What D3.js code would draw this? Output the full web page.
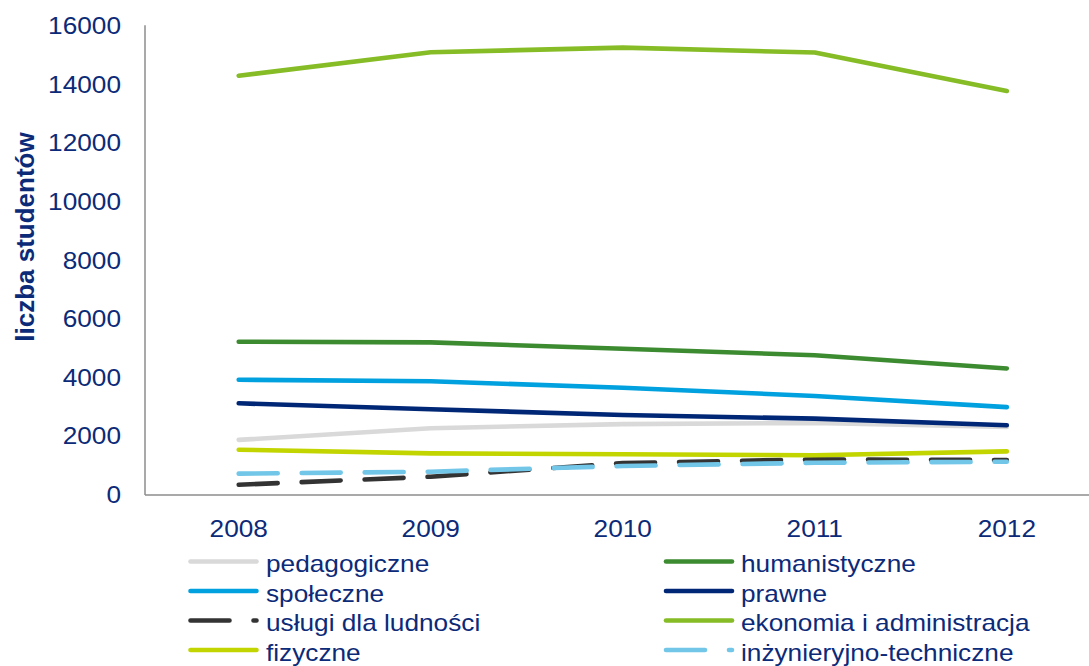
<!DOCTYPE html>
<html>
<head>
<meta charset="utf-8">
<script src="https://cdn.jsdelivr.net/npm/d3@7"></script>
<style>
  html, body { margin: 0; padding: 0; background: #fff; }
  svg { display: block; }
  text { font-family: "Liberation Sans", Arial, sans-serif; fill: #0B2A78; }
</style>
</head>
<body>
<svg id="chart" width="1089" height="666"></svg>
<script>
// ---- data ----
const years = ["2008", "2009", "2010", "2011", "2012"];
const yTicks = [0, 2000, 4000, 6000, 8000, 10000, 12000, 14000, 16000];

const pedagogiczne = [1880, 2280, 2420, 2460, 2320];
const humanistyczne = [5230, 5210, 4990, 4770, 4320];
const spoleczne = [3935, 3880, 3660, 3380, 3000];
const prawne = [3130, 2925, 2730, 2605, 2380];
const uslugi = [350, 625, 1090, 1215, 1195];
const ekonomia = [14310, 15110, 15270, 15100, 13790];
const fizyczne = [1545, 1420, 1390, 1355, 1490];
const inzynieryjno = [730, 795, 990, 1100, 1135];

const seriesNames = ["pedagogiczne", "humanistyczne", "społeczne", "prawne",
  "usługi dla ludności", "ekonomia i administracja", "fizyczne", "inżynieryjno-techniczne"];
const seriesValues = [pedagogiczne, humanistyczne, spoleczne, prawne, uslugi, ekonomia, fizyczne, inzynieryjno];
const seriesColors = ["#D9D9D9", "#3D8B31", "#00A1DE", "#002776", "#333333", "#86BC25", "#C2D500", "#72C6E8"];
const seriesDashed = [false, false, false, false, true, false, false, true];

// ---- layout ----
const svg = d3.select("#chart");
const sx = 1.14; // horizontal text stretch of the original
const fs = 23;
const lineW = 4.6;
const dash = "39,24";

const x = d3.scalePoint().domain(years).range([238.7, 1006.8]);
const y = d3.scaleLinear().domain([0, 16000]).range([495, 26.2]);

function stretchedText(g, tx, ty, str, anchor, opts = {}) {
  return g.append("text")
    .attr("transform", `translate(${tx},${ty}) scale(${sx},1)`)
    .attr("text-anchor", anchor)
    .style("font-size", (opts.size || fs) + "px")
    .style("font-weight", opts.weight || "normal")
    .text(str);
}

// axes lines
svg.append("line").attr("x1", 145).attr("x2", 145).attr("y1", y(16000) - 1).attr("y2", y(0))
  .attr("stroke", "#8C8C8C").attr("stroke-width", 1.5);
svg.append("line").attr("x1", 145).attr("x2", 1089).attr("y1", y(0)).attr("y2", y(0))
  .attr("stroke", "#8C8C8C").attr("stroke-width", 1.5);

// y tick labels
const yl = svg.append("g");
yTicks.forEach(t => stretchedText(yl, 121, y(t) + 8, String(t), "end"));

// x tick labels
const xl = svg.append("g");
years.forEach(yr => stretchedText(xl, x(yr), 537, yr, "middle"));

// y axis title
svg.append("text")
  .attr("transform", `translate(34,237) rotate(-90)`)
  .attr("text-anchor", "middle")
  .style("font-size", "26px")
  .style("font-weight", "bold")
  .text("liczba studentów");

// lines
const lineGen = d3.line().x((d, i) => x(years[i])).y(d => y(d));
const lg = svg.append("g");
seriesValues.forEach((vals, i) => {
  lg.append("path")
    .datum(vals)
    .attr("d", lineGen)
    .attr("fill", "none")
    .attr("stroke", seriesColors[i])
    .attr("stroke-width", lineW)
    .attr("stroke-linecap", "round")
    .attr("stroke-linejoin", "round")
    .attr("stroke-dasharray", seriesDashed[i] ? dash : null);
});

// legend
const leg = svg.append("g");
const colX = [190.5, 666];
const textX = [266, 741];
const rowBase = [572, 601.5, 631, 660.5];
seriesNames.forEach((name, i) => {
  const c = i % 2, r = Math.floor(i / 2);
  const ly = rowBase[r] - 10.5;
  leg.append("line")
    .attr("x1", colX[c]).attr("x2", colX[c] + 66)
    .attr("y1", ly).attr("y2", ly)
    .attr("stroke", seriesColors[i])
    .attr("stroke-width", lineW)
    .attr("stroke-linecap", "round")
    .attr("stroke-dasharray", seriesDashed[i] ? dash : null);
  stretchedText(leg, textX[c], rowBase[r], name, "start");
});
</script>
</body>
</html>
